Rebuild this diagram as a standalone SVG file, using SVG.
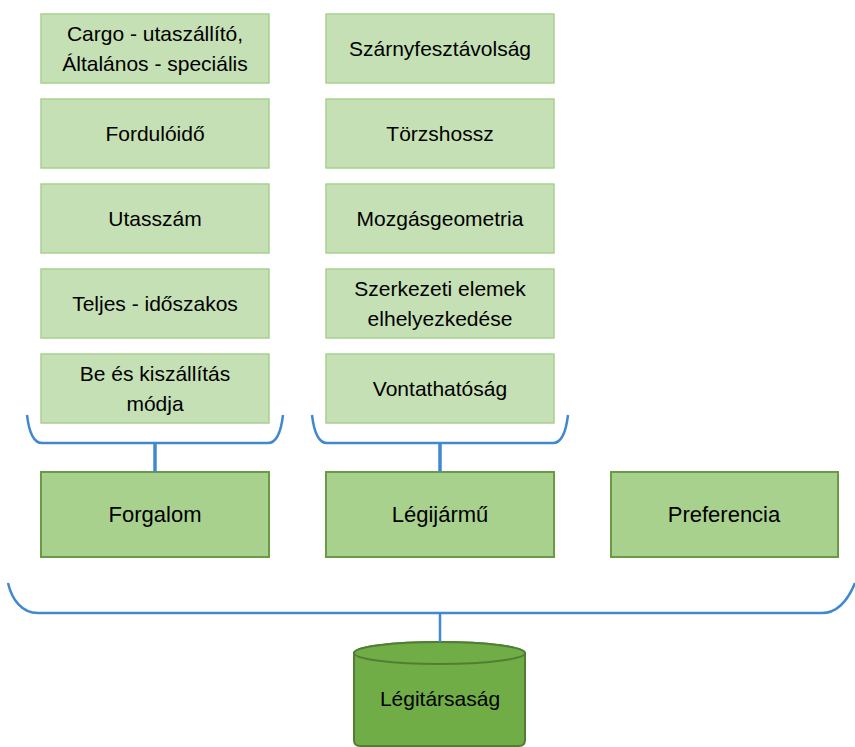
<svg xmlns="http://www.w3.org/2000/svg" width="855" height="747" viewBox="0 0 855 747">
<style>
.sub{fill:#C5E0B4;stroke:#A9D18E;stroke-width:1.5}
.main{fill:#A9D18E;stroke:#6A9A45;stroke-width:2}
.t{font-family:"Liberation Sans",Arial,sans-serif;font-size:21px;fill:#000;text-anchor:middle}
.tm{font-size:22px}
.br{fill:none;stroke:#4288CF;stroke-width:2.5}
.stem{stroke:#4288CF;stroke-width:3.5}
</style>
<rect width="855" height="747" fill="#fff"/>
<g id="cargo"><rect class="sub" x="41" y="14" width="228" height="69"/><text class="t" x="155" y="41">Cargo - utaszállító,</text><text class="t" x="155" y="71">Általános - speciális</text></g>
<g id="fordulo"><rect class="sub" x="41" y="99" width="228" height="69"/><text class="t" x="155" y="141">Fordulóidő</text></g>
<g id="utasszam"><rect class="sub" x="41" y="184" width="228" height="69"/><text class="t" x="155" y="226">Utasszám</text></g>
<g id="teljes"><rect class="sub" x="41" y="269" width="228" height="69"/><text class="t" x="155" y="311">Teljes - időszakos</text></g>
<g id="beki"><rect class="sub" x="41" y="354" width="228" height="69"/><text class="t" x="155" y="381">Be és kiszállítás</text><text class="t" x="155" y="411">módja</text></g>
<g id="szarny"><rect class="sub" x="326" y="14" width="228" height="69"/><text class="t" x="440" y="56">Szárnyfesztávolság</text></g>
<g id="torzs"><rect class="sub" x="326" y="99" width="228" height="69"/><text class="t" x="440" y="141">Törzshossz</text></g>
<g id="mozgas"><rect class="sub" x="326" y="184" width="228" height="69"/><text class="t" x="440" y="226">Mozgásgeometria</text></g>
<g id="szerk"><rect class="sub" x="326" y="269" width="228" height="69"/><text class="t" x="440" y="296">Szerkezeti elemek</text><text class="t" x="440" y="326">elhelyezkedése</text></g>
<g id="vontat"><rect class="sub" x="326" y="354" width="228" height="69"/><text class="t" x="440" y="396">Vontathatóság</text></g>
<g id="forgalom"><rect class="main" x="41" y="472" width="228" height="85"/><text class="t tm" x="155" y="522">Forgalom</text></g>
<g id="legijarmu"><rect class="main" x="326" y="472" width="228" height="85"/><text class="t tm" x="440" y="522">Légijármű</text></g>
<g id="preferencia"><rect class="main" x="611" y="472" width="227" height="85"/><text class="t tm" x="724" y="522">Preferencia</text></g>
<g id="legitarsasag">
<path d="M354,653 V740 Q354,746 360,746 H519 Q525,746 525,740 V653 A85.5,11 0 0 0 354,653 Z" fill="#70AD47" stroke="#507E32" stroke-width="2"/>
<ellipse cx="439.5" cy="653" rx="85.5" ry="11" fill="#70AD47" stroke="#507E32" stroke-width="2"/>
<text class="t" x="440" y="706">Légitársaság</text>
</g>
<g id="connectors">
<path class="br" d="M27,415 C29,432 33,443 42,443 H268 C277,443 281,432 283,415"/>
<line class="stem" x1="155" y1="443" x2="155" y2="472"/>
<path class="br" d="M312,415 C314,432 318,443 327,443 H553 C562,443 566,432 568,415"/>
<line class="stem" x1="440" y1="443" x2="440" y2="472"/>
<path class="br" d="M8,583 C12,600 22,613 38,613 H822 C838,613 848,600 855,583"/>
<line x1="440" y1="613" x2="440" y2="642" stroke="#4288CF" stroke-width="2.5"/>
</g>
</svg>
